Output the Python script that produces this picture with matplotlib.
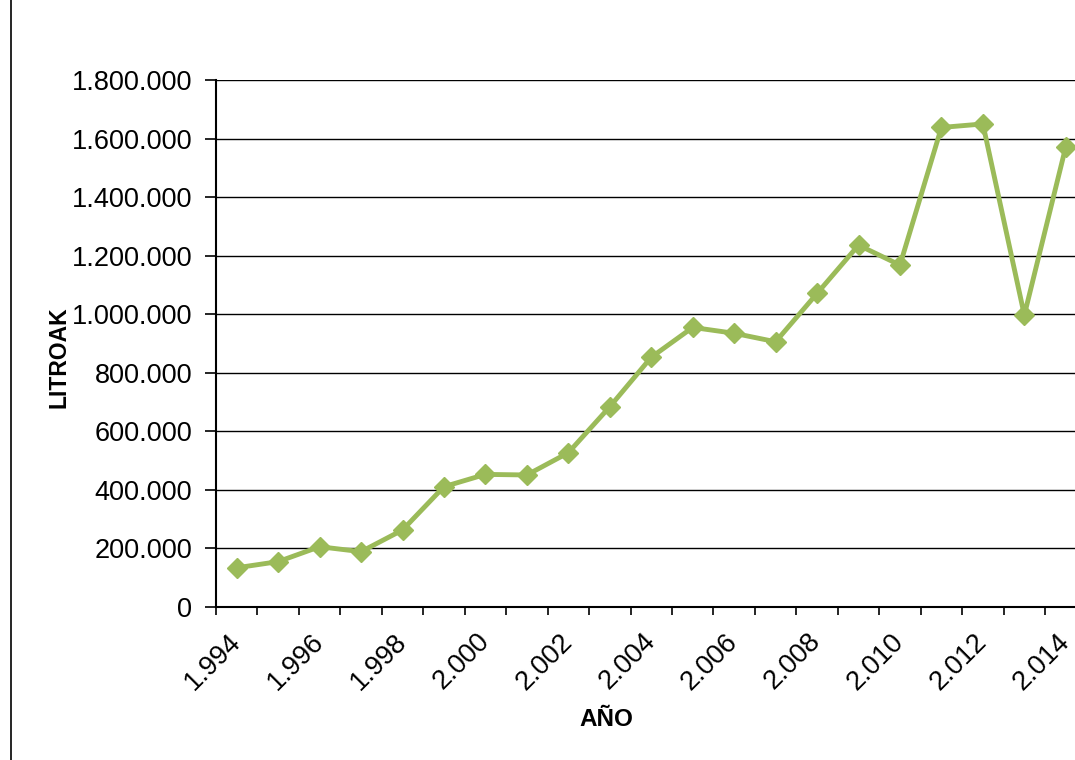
import matplotlib.pyplot as plt
from matplotlib.ticker import FuncFormatter
from matplotlib.lines import Line2D

plt.rcParams['font.family'] = ['Liberation Sans', 'DejaVu Sans']

# data
years = list(range(1994, 2015))
litros = [134000, 155000, 206000, 189000, 263000, 411000, 453000, 451000,
          527000, 684000, 853000, 955000, 935000, 906000, 1071000, 1236000,
          1168000, 1638000, 1650000, 997000, 1572000]
label_years = years[::2]

fig = plt.figure(figsize=(10.75, 7.6), dpi=100)
ax = fig.add_axes([0.2009, 0.2013, 0.8098, 0.6934])

ax.plot(years, litros, color='#9BBB59', lw=3.5, marker='D', ms=10,
        mec='#9BBB59', mfc='#9BBB59', zorder=3, clip_on=False)

ax.set_xlim(years[0] - 0.5, years[-1] + 0.5)
ax.set_ylim(0, 1800000)
ax.set_yticks(range(0, 1800001, 200000))
ax.yaxis.set_major_formatter(FuncFormatter(lambda v, p: f"{v:,.0f}".replace(',', '.')))
ax.grid(axis='y', color='black', lw=1.0, zorder=1)

# ticks between categories, labels on every second year
ax.set_xticks([y - 0.5 for y in years] + [years[-1] + 0.5])
ax.set_xticklabels([])
ax.set_xticks(label_years, labels=[f"{y // 1000}.{y % 1000:03d}" for y in label_years], minor=True)
ax.tick_params(axis='x', which='major', length=6, width=1.2, direction='out')
ax.tick_params(axis='x', which='minor', length=0, pad=22, labelsize=19.5)
plt.setp(ax.get_xticklabels(minor=True), rotation=45, ha='right', va='center',
         rotation_mode='anchor')
ax.tick_params(axis='y', length=8, width=1.2, pad=9, labelsize=19.5)

for s in ['top', 'right']:
    ax.spines[s].set_visible(False)
for s in ['left', 'bottom']:
    ax.spines[s].set_linewidth(1.5)

fig.text(59 / 1075, 1 - 357 / 760, 'LITROAK', rotation=90, ha='center', va='center',
         fontsize=16.5, fontweight='bold')
fig.text(606 / 1075, 1 - 720 / 760, 'AÑO', ha='center', va='center',
         fontsize=17.5, fontweight='bold')

# left frame line
fig.add_artist(Line2D([11 / 1075, 11 / 1075], [0, 1], color='black', lw=1.2,
                      transform=fig.transFigure))

fig.savefig('out.png', dpi=100)
